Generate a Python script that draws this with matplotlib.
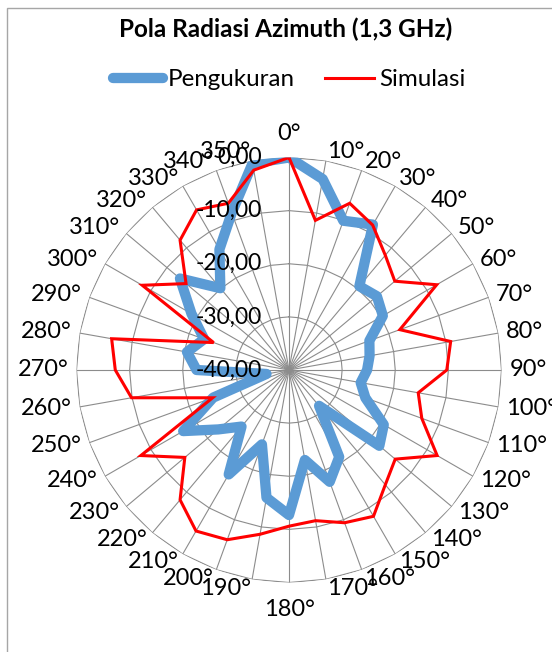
import numpy as np
import matplotlib
matplotlib.use('Agg')
import matplotlib.pyplot as plt
from matplotlib.patches import Rectangle

plt.rcParams['font.family'] = ['Lato', 'DejaVu Sans']

# data (dB), one value per category
kategori = ['0°', '10°', '20°', '30°', '40°', '50°', '60°', '70°', '80°', '90°',
            '100°', '110°', '120°', '130°', '140°', '150°', '160°', '170°', '180°',
            '190°', '200°', '210°', '220°', '230°', '240°', '250°', '260°', '270°',
            '280°', '290°', '300°', '310°', '320°', '330°', '340°', '350°']
pengukuran = [0, -3.5, -10.1, -8.4, -19.4, -18.4, -19.6, -23.9, -24.6, -25.3,
              -26.3, -24.7, -19.4, -17.8, -31.2, -21.1, -17.6, -22.8, -12.7,
              -15.6, -25.1, -17.3, -26.1, -22.6, -17.0, -24.8, -35.7, -22.6,
              -20.5, -23.0, -18.8, -13.2, -19.9, -13.8, -8.5, -0.5]
simulasi = [0, -11.4, -6.6, -8.5, -11.8, -14.0, -7.9, -17.8, -9.1, -10.3,
            -15.3, -13.4, -7.8, -13.9, -11.8, -8.2, -9.4, -11.2, -10.6,
            -8.6, -6.0, -5.0, -8.1, -14.4, -7.8, -24.7, -9.9, -7.3,
            -6.1, -24.9, -8.1, -14.7, -8.1, -5.2, -6.6, -1.8]
level = [-40, -30, -20, -10, 0]
level_label = ['-40,00', '-30,00', '-20,00', '-10,00', '0,00']

W, H = 552, 652
fig = plt.figure(figsize=(W / 100, H / 100), dpi=100, facecolor='w')

# chart area border (runs off the right/bottom of the page crop)
fig.patches.append(Rectangle((6.5 / W, -0.1), 1.2, (H - 8) / H + 0.1, transform=fig.transFigure,
                             fill=False, edgecolor='#a6a6a6', lw=1.0))

cx, cy, R = 289, 370, 212.5
ax = fig.add_axes([(cx - R) / W, (H - cy - R) / H, 2 * R / W, 2 * R / H], projection='polar')
ax.set_theta_zero_location('N')
ax.set_theta_direction(-1)
ax.set_ylim(-40, 0)
ax.grid(False)
ax.set_xticks([])
ax.set_yticks([])
ax.spines['polar'].set_visible(False)
ax.patch.set_alpha(0)

n = len(kategori)
theta = np.arange(n) * 2 * np.pi / n
theta_c = np.append(theta, theta[0])

# polygon gridlines + spokes, like Excel radar
for lv in level[1:]:
    ax.plot(theta_c, [lv] * (n + 1), color='#8c8c8c', lw=0.8, zorder=1)
for t in theta:
    ax.plot([t, t], [-40, 0], color='#8c8c8c', lw=0.8, zorder=1)

l1, = ax.plot(theta_c, pengukuran + pengukuran[:1], color='#5b9bd5', lw=7.4,
              solid_joinstyle='round', solid_capstyle='round', zorder=3, label='Pengukuran')
l2, = ax.plot(theta_c, simulasi + simulasi[:1], color='#ff0000', lw=2.2,
              solid_joinstyle='miter', zorder=4, label='Simulasi')

# category labels around the outside
for t, lab in zip(theta, kategori):
    s, c = np.sin(t), np.cos(t)
    if abs(s) < 1e-6:
        if c > 0:
            off, ha, va = (0, 13), 'center', 'bottom'
        else:
            off, ha, va = (0, -16), 'center', 'top'
    else:
        off = (8 * s, 9 * c)
        ha = 'left' if s > 0 else 'right'
        va = 'center'
    ax.annotate(lab, xy=(t, 0), xytext=off, textcoords='offset pixels',
                ha=ha, va=va, fontsize=17, annotation_clip=False, zorder=6)

# value labels along the 0° axis
for lv, lab in zip(level, level_label):
    ax.annotate(lab, xy=(0, lv), xytext=(-27, 0), textcoords='offset pixels',
                ha='right', va='center', fontsize=16.5, annotation_clip=False, zorder=6)

fig.text(285.5 / W, 1 - 29.5 / H, 'Pola Radiasi Azimuth (1,3 GHz)', ha='center', va='center',
         fontsize=17.5, fontweight='bold')

fig.legend(handles=[l1, l2], loc='center', bbox_to_anchor=(289.5 / W, 1 - 80 / H),
           ncol=2, frameon=False, fontsize=17.4, handlelength=2.05, handletextpad=0.2,
           columnspacing=1.25, borderpad=0)

fig.savefig('out.png', dpi=100, facecolor='w')
